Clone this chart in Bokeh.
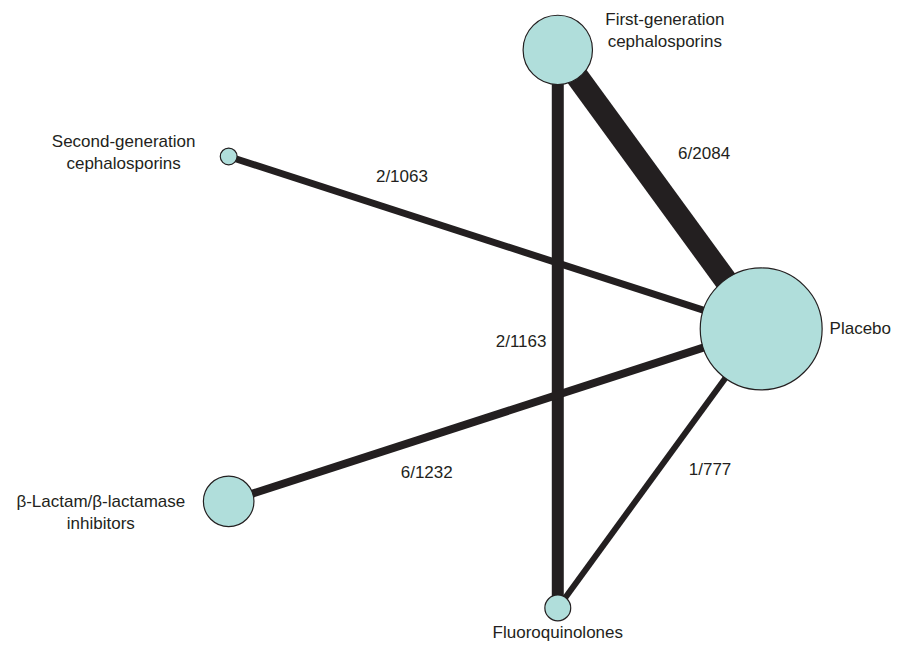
import math
from bokeh.plotting import figure
from bokeh.models import Range1d, ColumnDataSource
from bokeh.core.properties import value
from bokeh.embed import file_html
from bokeh.resources import INLINE

# ---------------- data ----------------
treatments = ["Placebo",
              "First-generation\ncephalosporins",
              "Second-generation\ncephalosporins",
              "\u03b2-Lactam/\u03b2-lactamase\ninhibitors",
              "Fluoroquinolones"]
# relative node weight (area, Placebo = 100)
node_weight = [100, 32.4, 1.9, 17.2, 4.5]

edge_from = [1, 2, 1, 3, 4]
edge_to = [0, 0, 4, 0, 0]
edge_label = ["6/2084", "2/1063", "2/1163", "6/1232", "1/777"]

# ---------------- layout / style ----------------
W, H = 893, 642            # canvas
RW, RH = 901, 650          # layout space
cx, cy, R = 470.5, 332.5, 297.0          # circular (pentagon) layout
max_r = 61.5
edge_width = [23, 7, 12, 8, 6]
# label anchor: fraction along edge, then offset
edge_lab_pos = [(0.5, 45, -36), (0.33, -2.5, -37.5), (0.5, -37, 12.5), (0.37, 1, 35.5), (0.5, 51, 1)]
# node label offsets: dx, dy (of block centre), alignment
node_lab_pos = [(69, 0, "left"), (108, -20, "center"), (-106, -4, "center"),
                (-129, 11, "center"), (0, 25, "center")]

INK = "#231f20"
FILL = "#b0dedb"
FONT = value("Liberation Sans")
FS = "17px"
line_h = 22

n = len(treatments)
angles = [2 * math.pi * i / n for i in range(n)]
nx = [cx + R * math.cos(a) for a in angles]
ny = [cy - R * math.sin(a) for a in angles]
nr = [max_r * math.sqrt(w / 100.0) for w in node_weight]

p = figure(width=W, height=H, output_backend="svg", toolbar_location=None,
           x_range=Range1d(0, RW), y_range=Range1d(RH, 0),
           min_border=0, outline_line_color=None)
p.axis.visible = False
p.grid.visible = False

# edges
es = ColumnDataSource(dict(
    x0=[nx[a] for a in edge_from], y0=[ny[a] for a in edge_from],
    x1=[nx[b] for b in edge_to], y1=[ny[b] for b in edge_to], w=edge_width))
p.segment("x0", "y0", "x1", "y1", source=es, line_color=INK, line_width="w", line_cap="butt")

# nodes
p.circle(nx, ny, radius=nr, fill_color=FILL, line_color=INK, line_width=1.2)

# edge labels
lx, ly = [], []
for k, (a, b) in enumerate(zip(edge_from, edge_to)):
    t, dx, dy = edge_lab_pos[k]
    lx.append(nx[a] + (nx[b] - nx[a]) * t + dx)
    ly.append(ny[a] + (ny[b] - ny[a]) * t + dy)
p.text(lx, ly, text=edge_label, text_font=FONT, text_font_size=FS, text_color=INK,
       text_align="center", text_baseline="middle")

# node labels
for i, name in enumerate(treatments):
    dx, dy, align = node_lab_pos[i]
    lines = name.split("\n")
    base_y = ny[i] + dy - (len(lines) - 1) * line_h / 2
    p.text([nx[i] + dx] * len(lines), [base_y + j * line_h for j in range(len(lines))],
           text=lines, text_font=FONT, text_font_size=FS, text_color=INK,
           text_align=align, text_baseline="middle")

open("out.html", "w").write(file_html(p, INLINE))
